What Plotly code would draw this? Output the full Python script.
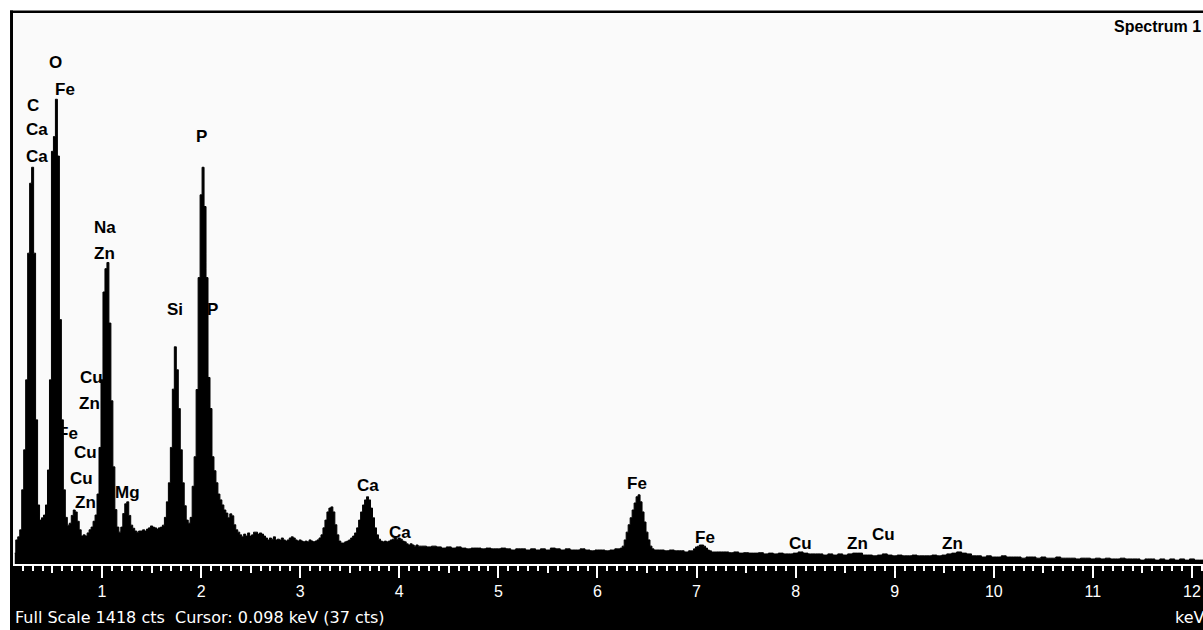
import plotly.graph_objects as go

# ---------------------------------------------------------------
# EDS spectrum "Spectrum 1" – counts per channel.
# Each block is (first channel energy in keV, channel width in keV, counts)
# ---------------------------------------------------------------
FULL_SCALE = 1418  # cts

# 0.12 – 4.20 keV, 0.02 keV channels (C, O, Fe-L, Na, Mg, Si, P, K-esc, Ca)
counts_low = [
    28, 62, 70, 88, 191, 294, 474, 800, 980, 1021,
    800, 371, 152, 113, 119, 126, 152, 242, 474, 1062,
    1100, 1196, 1050, 629, 371, 191, 120, 100, 105, 125,
    139, 134, 110, 88, 72, 75, 72, 80, 88, 95,
    110, 126, 180, 300, 474, 700, 760, 776, 620, 420,
    250, 140, 95, 82, 95, 130, 155, 160, 125, 100,
    92, 85, 82, 85, 85, 88, 85, 90, 93, 98,
    95, 93, 90, 93, 95, 100, 120, 160, 209, 300,
    450, 559, 500, 400, 294, 209, 150, 113, 105, 120,
    200, 276, 449, 737, 950, 1021, 920, 737, 480, 400,
    276, 240, 209, 180, 165, 152, 139, 131, 119, 129,
    124, 101, 88, 82, 75, 70, 77, 72, 80, 72,
    75, 82, 82, 77, 80, 77, 72, 67, 62, 67,
    64, 70, 62, 64, 62, 67, 62, 59, 62, 67,
    70, 67, 62, 59, 62, 59, 57, 59, 57, 62,
    59, 57, 59, 62, 67, 75, 93, 113, 134, 144,
    147, 134, 101, 75, 59, 54, 54, 57, 59, 62,
    67, 72, 80, 93, 113, 134, 152, 165, 173, 165,
    144, 119, 93, 75, 64, 59, 57, 59, 57, 59,
    62, 64, 67, 64, 67, 64, 59, 57, 52, 49,
    52, 49, 46, 49, 46,
]

# 4.25 – 6.20 keV, 0.05 keV channels (background)
counts_mid = [
    46, 44, 46, 44, 41, 44, 41, 44, 41, 39,
    41, 41, 39, 41, 39, 39, 41, 39, 36, 39,
    39, 36, 39, 36, 39, 36, 41, 39, 36, 39,
    36, 36, 39, 36, 34, 36, 36, 34, 36, 39,
]

# 6.22 – 6.60 keV, 0.02 keV channels (Fe K-alpha)
counts_fe_ka = [39, 41, 46, 62, 82, 101, 119, 139, 157, 173,
                178, 160, 134, 108, 82, 62, 46, 39, 36, 36]

# 6.65 – 6.90 keV, 0.05 keV channels
counts_fe_gap = [36, 34, 36, 34, 34, 31]

# 6.94 – 7.20 keV, 0.02 keV channels (Fe K-beta)
counts_fe_kb = [34, 34, 39, 44, 46, 49, 49, 46, 41, 36, 34, 31, 31, 31]

# 7.25 – 12.15 keV, 0.05 keV channels (Cu / Zn K lines, tail)
counts_high = [
    31, 31, 29, 31, 28, 29, 28, 28, 29, 26,
    28, 26, 28, 26, 26, 28, 31, 28, 26, 26,
    26, 23, 26, 23, 26, 23, 26, 28, 28, 23,
    23, 21, 23, 26, 23, 21, 23, 21, 21, 23,
    21, 21, 21, 23, 21, 23, 26, 28, 31, 28,
    26, 21, 21, 18, 21, 18, 18, 21, 18, 18,
    18, 15, 18, 18, 15, 18, 15, 15, 18, 15,
    15, 15, 13, 15, 15, 13, 15, 13, 15, 13,
    13, 15, 13, 13, 13, 10, 13, 13, 10, 13,
    10, 13, 10, 13, 10, 13, 10, 10, 10,
]

segments = [
    (0.12, 0.02, counts_low),
    (4.25, 0.05, counts_mid),
    (6.22, 0.02, counts_fe_ka),
    (6.65, 0.05, counts_fe_gap),
    (6.94, 0.02, counts_fe_kb),
    (7.25, 0.05, counts_high),
]

energy_kev, counts = [], []
for start, width, values in segments:
    for i, v in enumerate(values):
        energy_kev.append(round(start + width * i, 3))
        counts.append(v)

# Peak identification labels (text, keV, cts)
label_text = ["O", "Fe", "C", "Ca", "Ca", "P", "Na", "Zn", "Si", "P",
              "Cu", "Zn", "Fe", "Cu", "Cu", "Zn", "Mg", "Ca", "Ca",
              "Fe", "Fe", "Cu", "Zn", "Cu", "Zn"]
label_kev = [0.526, 0.627, 0.304, 0.344, 0.344, 2.009, 1.030, 1.030, 1.737, 2.120,
             0.899, 0.879, 0.657, 0.829, 0.798, 0.829, 1.262, 3.684, 4.007,
             6.399, 7.085, 8.054, 8.620, 8.882, 9.579]
label_cts = [1290, 1220, 1181, 1117, 1048, 1099, 865, 800, 654, 654,
             479, 414, 337, 286, 221, 157, 183, 203, 82,
             208, 67, 52, 52, 75, 52]

tick_half = [k + 0.5 for k in range(12)]

fig = go.Figure()
fig.add_trace(go.Scatter(
    x=energy_kev, y=counts, mode="lines",
    line=dict(shape="hvh", color="black", width=1),
    fill="tozeroy", fillcolor="black",
    hoverinfo="skip", showlegend=False,
))
# carrier for the half-keV tick row
fig.add_trace(go.Scatter(x=[], y=[], xaxis="x2", showlegend=False, hoverinfo="skip"))

annotations = []
for t, e, c in zip(label_text, label_kev, label_cts):
    annotations.append(dict(
        x=e, y=c, xref="x", yref="y", text=t, showarrow=False,
        font=dict(family="Liberation Sans, Arial", size=17, color="black", weight="bold"),
        xanchor="center", yanchor="middle",
    ))

annotations += [
    dict(x=0.9235, y=0.976, xref="paper", yref="paper", text="Spectrum 1",
         showarrow=False, xanchor="left", yanchor="middle",
         font=dict(family="Liberation Sans, Arial", size=16, color="black", weight="bold")),
    dict(x=0.0, y=-0.098, xref="paper", yref="paper",
         text=f"Full Scale {FULL_SCALE} cts  Cursor: 0.098 keV (37 cts)",
         showarrow=False, xanchor="left", yanchor="middle",
         font=dict(family="DejaVu Sans", size=16, color="white")),
    dict(x=1.0, y=-0.098, xref="paper", yref="paper", text="keV", xshift=4,
         showarrow=False, xanchor="right", yanchor="middle",
         font=dict(family="DejaVu Sans", size=16, color="white")),
]

shapes = [
    # black instrument band under the spectrum
    dict(type="rect", xref="paper", yref="paper", x0=-0.0025, x1=1.0, y0=-0.13, y1=0.0,
         fillcolor="black", line=dict(width=0), layer="below"),
    # frame: left and top edges
    dict(type="rect", xref="paper", yref="paper", x0=-0.0025, x1=0.0, y0=-0.13, y1=1.0045,
         fillcolor="black", line=dict(width=0), layer="above"),
    dict(type="rect", xref="paper", yref="paper", x0=-0.0025, x1=1.0, y0=1.0, y1=1.0045,
         fillcolor="black", line=dict(width=0), layer="above"),
]

x_range = [0.102, 12.111]
fig.update_layout(
    width=1203, height=630,
    margin=dict(l=13, r=0, t=13, b=66, pad=0),
    paper_bgcolor="white", plot_bgcolor="#fafafa",
    showlegend=False,
    xaxis=dict(
        range=x_range, showgrid=False, zeroline=False,
        showline=True, linecolor="white", linewidth=2,
        tickmode="linear", tick0=0, dtick=1,
        ticks="outside", ticklen=12, tickwidth=2, tickcolor="white",
        tickfont=dict(family="Liberation Sans, Arial", size=16, color="white"),
        minor=dict(tickmode="linear", tick0=0, dtick=0.1, ticks="outside",
                   ticklen=5, tickwidth=1.5, tickcolor="white", showgrid=False),
    ),
    xaxis2=dict(
        range=x_range, overlaying="x", anchor="y", side="bottom",
        tickmode="array", tickvals=tick_half, ticks="outside", ticklen=8,
        tickwidth=1.5, tickcolor="white", showticklabels=False,
        showgrid=False, zeroline=False, showline=False,
    ),
    yaxis=dict(range=[0, FULL_SCALE], showgrid=False, zeroline=False,
               showticklabels=False, showline=False, ticks=""),
    annotations=annotations,
    shapes=shapes,
)

fig.write_html("out.html")
